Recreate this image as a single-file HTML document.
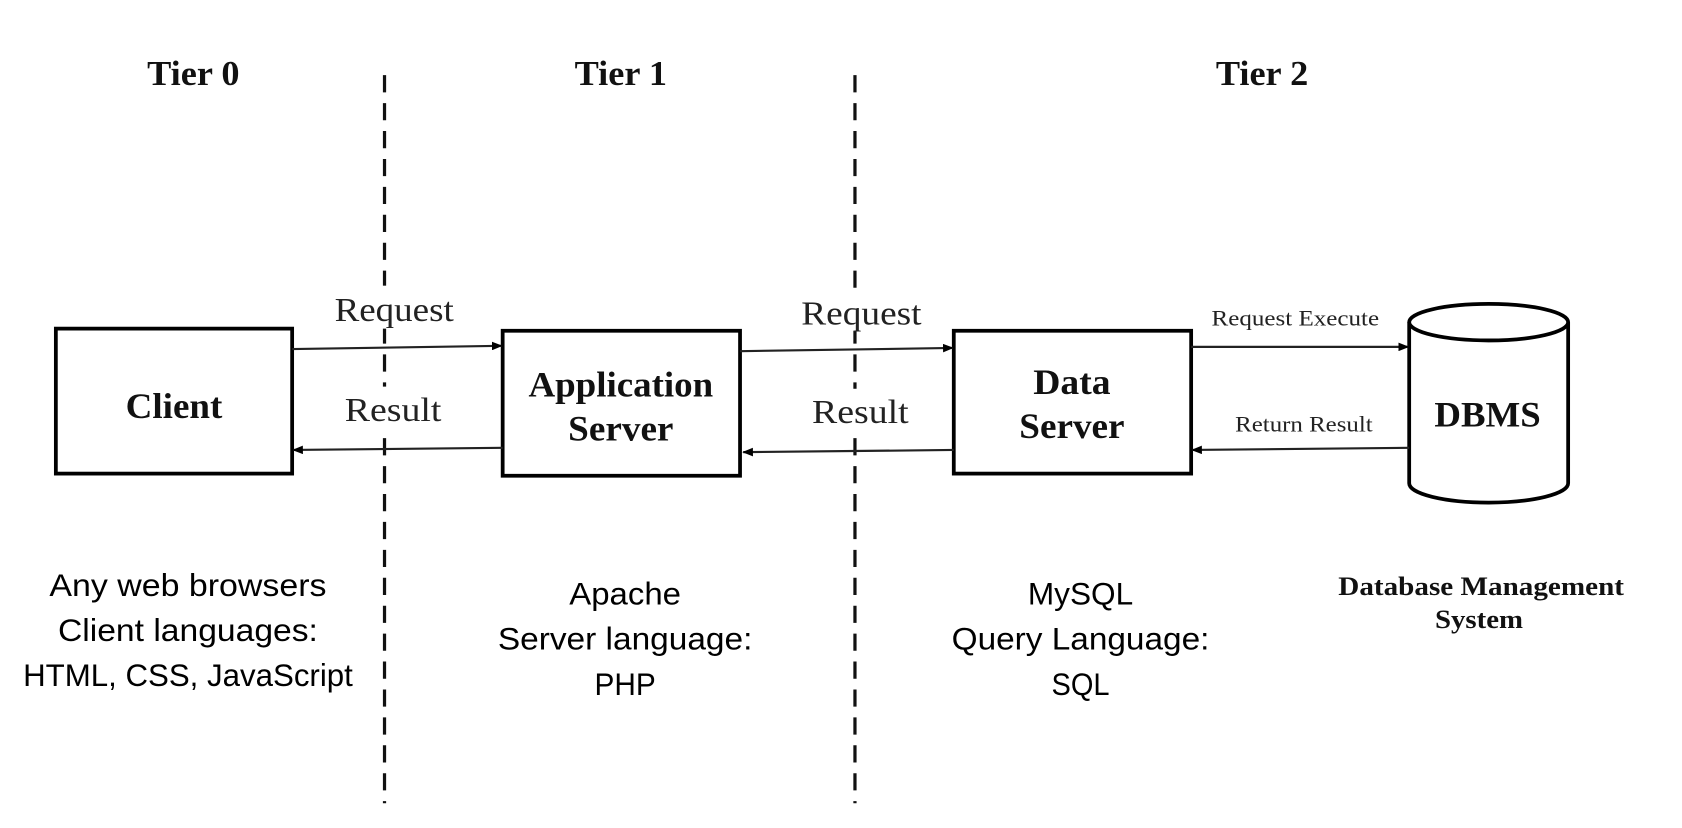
<!DOCTYPE html>
<html><head><meta charset="utf-8"><style>html,body{margin:0;padding:0;background:#fff;}svg{display:block}</style></head>
<body>
<svg width="1682" height="828" viewBox="0 0 1566 771" preserveAspectRatio="none" xmlns="http://www.w3.org/2000/svg">
<defs>
<marker id="a" markerWidth="10" markerHeight="8" refX="9" refY="4" orient="auto" markerUnits="userSpaceOnUse"><path d="M0,0 L10,4 L0,8 z" fill="#000"/></marker>
</defs>
<rect width="1566" height="771" fill="#fff"/>
<g font-family="Liberation Serif, serif" font-weight="bold" font-size="32" text-anchor="middle" fill="#111">
<text x="180" y="79" textLength="86" lengthAdjust="spacingAndGlyphs">Tier 0</text>
<text x="578" y="79" textLength="86" lengthAdjust="spacingAndGlyphs">Tier 1</text>
<text x="1175" y="79" textLength="86" lengthAdjust="spacingAndGlyphs">Tier 2</text>
</g>
<g stroke="#111" stroke-width="3" stroke-dasharray="16,10">
<line x1="358" y1="70" x2="358" y2="748"/>
<line x1="796" y1="70" x2="796" y2="748"/>
</g>
<g fill="#fff">
<rect x="310" y="266" width="115" height="40"/>
<rect x="318" y="360" width="97" height="40"/>
<rect x="744" y="268" width="116" height="40"/>
<rect x="754" y="362" width="96" height="40"/>
</g>
<g fill="#fff" stroke="#000" stroke-width="3.5">
<rect x="52" y="306" width="220" height="135"/>
<rect x="468" y="308" width="221" height="135"/>
<rect x="888" y="308" width="221" height="133"/>
<path d="M1312,300 L1312,450 A74,18 0 0 0 1460,450 L1460,300"/>
<ellipse cx="1386" cy="300" rx="74" ry="17"/>
</g>
<g stroke="#222" stroke-width="2" marker-end="url(#a)">
<line x1="272" y1="325" x2="467" y2="322"/>
<line x1="468" y1="417" x2="273" y2="419"/>
<line x1="689" y1="327" x2="887" y2="324"/>
<line x1="888" y1="419" x2="692" y2="421"/>
<line x1="1109" y1="323" x2="1311" y2="323"/>
<line x1="1312" y1="417" x2="1110" y2="419"/>
</g>
<g font-family="Liberation Serif, serif" font-weight="bold" font-size="33" text-anchor="middle" fill="#111">
<text x="162" y="389" textLength="90" lengthAdjust="spacingAndGlyphs">Client</text>
<text x="578" y="369" textLength="172" lengthAdjust="spacingAndGlyphs">Application</text>
<text x="578" y="410" textLength="98" lengthAdjust="spacingAndGlyphs">Server</text>
<text x="998" y="367" textLength="72" lengthAdjust="spacingAndGlyphs">Data</text>
<text x="998" y="408" textLength="98" lengthAdjust="spacingAndGlyphs">Server</text>
<text x="1385" y="397" textLength="99" lengthAdjust="spacingAndGlyphs">DBMS</text>
<text x="1379" y="554" font-size="25" textLength="266" lengthAdjust="spacingAndGlyphs">Database Management</text>
<text x="1377" y="585" font-size="25" textLength="82" lengthAdjust="spacingAndGlyphs">System</text>
</g>
<g font-family="Liberation Serif, serif" font-size="31" text-anchor="middle" fill="#222">
<text x="367" y="299" textLength="111" lengthAdjust="spacingAndGlyphs">Request</text>
<text x="366" y="392" textLength="90" lengthAdjust="spacingAndGlyphs">Result</text>
<text x="802" y="302" textLength="112" lengthAdjust="spacingAndGlyphs">Request</text>
<text x="801" y="394" textLength="90" lengthAdjust="spacingAndGlyphs">Result</text>
<text x="1206" y="303" font-size="21" textLength="156" lengthAdjust="spacingAndGlyphs">Request Execute</text>
<text x="1214" y="402" font-size="21" textLength="128" lengthAdjust="spacingAndGlyphs">Return Result</text>
</g>
<g font-family="Liberation Sans, sans-serif" font-size="29" text-anchor="middle" fill="#000">
<text x="175" y="555" textLength="258" lengthAdjust="spacingAndGlyphs">Any web browsers</text>
<text x="175" y="597" textLength="242" lengthAdjust="spacingAndGlyphs">Client languages:</text>
<text x="175" y="639" textLength="307" lengthAdjust="spacingAndGlyphs">HTML, CSS, JavaScript</text>
<text x="582" y="563" textLength="104" lengthAdjust="spacingAndGlyphs">Apache</text>
<text x="582" y="605" textLength="237" lengthAdjust="spacingAndGlyphs">Server language:</text>
<text x="582" y="647" textLength="57" lengthAdjust="spacingAndGlyphs">PHP</text>
<text x="1006" y="563" textLength="98" lengthAdjust="spacingAndGlyphs">MySQL</text>
<text x="1006" y="605" textLength="240" lengthAdjust="spacingAndGlyphs">Query Language:</text>
<text x="1006" y="647" textLength="54" lengthAdjust="spacingAndGlyphs">SQL</text>
</g>
</svg>
</body></html>
